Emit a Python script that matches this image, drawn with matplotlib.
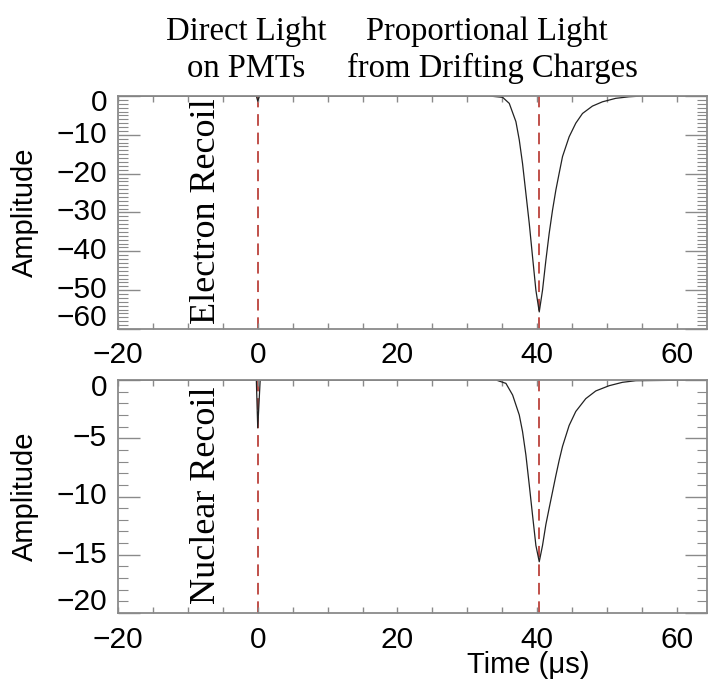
import matplotlib
matplotlib.use("Agg")
import matplotlib.pyplot as plt
from matplotlib.ticker import MultipleLocator
from matplotlib.transforms import ScaledTranslation

# ---- data ----
t_er = [-20.0, -0.2, 0.0, 0.25, 33.1, 35.05, 36.0, 36.95, 37.43, 37.9, 38.38,
        38.86, 39.33, 39.81, 40.29, 40.76, 41.24, 41.71, 42.19, 42.67, 43.14,
        43.62, 44.57, 45.52, 46.48, 47.9, 49.33, 51.24, 53.14, 55.05, 64.3]
a_er = [0.0, 0.0, -1.3, 0.0, 0.0, -0.34, -1.9, -6.6, -11.3, -17.4, -25.1,
        -32.8, -41.4, -50.0, -55.6, -50.0, -42.3, -35.4, -29.4, -24.2, -19.9,
        -15.6, -10.5, -7.0, -4.5, -2.6, -1.5, -0.6, -0.2, 0.0, 0.0]

t_nr = [-20.0, -0.2, 0.0, 0.35, 34.1, 35.52, 36.48, 37.43, 37.9, 38.38, 38.86,
        39.33, 39.81, 40.29, 40.76, 41.24, 41.71, 42.19, 42.67, 43.14, 43.62,
        44.57, 45.52, 46.95, 48.38, 50.29, 52.19, 54.1, 64.3]
a_nr = [0.0, 0.0, -4.1, 0.0, 0.0, -0.29, -1.29, -3.0, -4.43, -6.44, -9.0,
        -11.6, -14.2, -15.6, -14.2, -12.4, -11.0, -9.6, -8.2, -6.9, -5.7,
        -3.9, -2.7, -1.6, -0.94, -0.49, -0.2, -0.06, 0.0]

marker_times = [0.0, 40.3]
er_yticks = [-60, -50, -40, -30, -20, -10, 0]
nr_yticks = [-20, -15, -10, -5, 0]
xticks = [-20, 0, 20, 40, 60]

W, H = 709, 691
fig = plt.figure(figsize=(W / 100, H / 100), dpi=100)
fig.patch.set_facecolor("white")

SANS = ["Liberation Sans", "DejaVu Sans"]
SERIF = ["Liberation Serif", "DejaVu Serif"]
GREY = "#8a8a8a"
RED = "#c0504a"

left = 118 / W
width = (707 - 118) / W
ax1 = fig.add_axes([left, 1 - 329 / H, width, (329 - 96) / H])
ax2 = fig.add_axes([left, 1 - 613 / H, width, (613 - 380) / H])


def fmt(v):
    return f"{v}".replace("-", "\u2212")


def style(ax, yticks, ymin, end_shift):
    ax.set_xlim(-20, 64.3)
    ax.set_ylim(ymin, 0)
    for s in ax.spines.values():
        s.set_color(GREY)
        s.set_linewidth(1.3)
    ax.set_xticks(xticks)
    ax.set_xticklabels([fmt(v) for v in xticks], family=SANS, fontsize=21.5)
    ax.xaxis.set_minor_locator(MultipleLocator(5))
    ax.set_yticks(yticks)
    ax.set_yticklabels([])
    ax.yaxis.set_minor_locator(MultipleLocator(1))
    ax.tick_params(axis="x", which="both", direction="in", top=True, bottom=True,
                   length=4, width=1, color=GREY, pad=9)
    ax.tick_params(axis="y", which="major", direction="in", left=True, right=True,
                   length=16, width=1, color=GREY)
    ax.tick_params(axis="y", which="minor", direction="in", left=True, right=True,
                   length=7, width=0.8, color=GREY)
    # y tick labels (end labels nudged inward as in the reference)
    for v in yticks:
        dy = 0.0
        if v == 0:
            dy = -end_shift[0]
        elif v == yticks[0]:
            dy = end_shift[1]
        tr = ax.get_yaxis_transform() + ScaledTranslation(
            -11 / 100, dy / 100, fig.dpi_scale_trans)
        ax.text(0, v, fmt(v), transform=tr, family=SANS, fontsize=21.5,
                ha="right", va="center")
    for t in marker_times:
        ax.axvline(t, color=RED, lw=1.4, dashes=(6, 3.5), zorder=1)


ax1.plot(t_er, a_er, color="#222222", lw=0.9, zorder=2)
ax2.plot(t_nr, a_nr, color="#222222", lw=0.9, zorder=2)
style(ax1, er_yticks, -60, (7, 11))
style(ax2, nr_yticks, -20, (8, 11))

for yc in (212, 496):
    fig.text(25 / W, 1 - yc / H, "Amplitude", rotation=90, family=SANS,
             fontsize=21, ha="center", va="center")

ax1.text(-7.3, -58.6, "Electron Recoil", rotation=90, family=SERIF, fontsize=26,
         ha="center", va="bottom")
ax2.text(-7.3, -19.2, "Nuclear Recoil", rotation=90, family=SERIF, fontsize=26,
         ha="center", va="bottom")

fig.text(246 / W, 1 - 40 / H, "Direct Light", family=SERIF, fontsize=23.5,
         ha="center", va="baseline")
fig.text(246 / W, 1 - 77 / H, "on PMTs", family=SERIF, fontsize=23.5,
         ha="center", va="baseline")
fig.text(487 / W, 1 - 40 / H, "Proportional Light", family=SERIF, fontsize=23.5,
         ha="center", va="baseline")
fig.text(492 / W, 1 - 77 / H, "from Drifting Charges", family=SERIF, fontsize=23.5,
         ha="center", va="baseline")

ax2.text(38.7, -23.3, "Time (\u03bcs)", family=SANS, fontsize=21,
         ha="center", va="top")

fig.savefig("out.png", dpi=100)
